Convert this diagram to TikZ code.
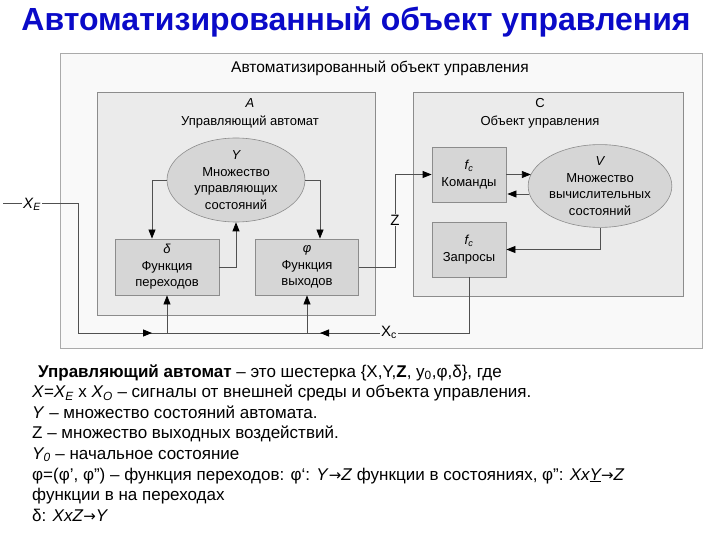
\documentclass[tikz,border=0pt]{standalone}
\usepackage{fontspec}
\setmainfont{Liberation Sans}
\newfontfamily\arrowfont{DejaVu Sans}
\usetikzlibrary{arrows.meta,shapes.geometric,calc}
\definecolor{titleblue}{RGB}{10,10,200}
\definecolor{outerfill}{RGB}{249,249,249}
\definecolor{outerdraw}{RGB}{170,170,170}
\definecolor{panelfill}{RGB}{235,235,235}
\definecolor{paneldraw}{RGB}{140,140,140}
\definecolor{boxfill}{RGB}{214,214,214}
\definecolor{boxdraw}{RGB}{140,140,140}
\definecolor{linecol}{RGB}{80,80,80}
\newcommand{\rarr}{{\arrowfont\fontsize{15}{20}\selectfont →}}
\tikzset{
  outerbox/.style={draw=outerdraw,fill=outerfill,line width=0.8pt,inner sep=0},
  panel/.style={draw=paneldraw,fill=panelfill,line width=0.8pt,inner sep=0},
  fbox/.style={draw=boxdraw,fill=boxfill,line width=0.8pt,align=center,inner sep=0,
     font=\fontsize{13}{16.5}\selectfont},
  fell/.style={ellipse,draw=boxdraw,fill=boxfill,line width=0.6pt,align=center,inner sep=0,
     font=\fontsize{13}{16.5}\selectfont},
  dlabel/.style={font=\fontsize{13}{15}\selectfont,inner sep=1pt},
  conn/.style={draw=linecol,line width=0.8pt},
  arr/.style={conn,-{Triangle[length=9pt,width=7pt,color=black,fill=black]}},
  body/.style={font=\fontsize{17}{20}\selectfont,anchor=base west,inner sep=0}
}
\begin{document}
\begin{tikzpicture}[x=1pt,y=-1pt]
\useasboundingbox (0,0) rectangle (720,540);

% title
\node[font=\fontsize{32}{34}\selectfont\bfseries,text=titleblue] (title) at (356,22) {Автоматизированный объект управления};

% outer box
\node[outerbox,minimum width=642pt,minimum height=295pt] (outer) at (381,200.5) {};
\node[font=\fontsize{15.5}{17}\selectfont] (hdr) at (380,68) {Автоматизированный объект управления};

% panels
\node[panel,minimum width=278pt,minimum height=223pt] (pA) at (236,203.5) {};
\node[panel,minimum width=270pt,minimum height=204pt] (pC) at (548,194) {};

\node[dlabel] (Alet) at (250,103) {\itshape A};
\node[dlabel] (Aname) at (250,122) {Управляющий автомат};
\node[dlabel] (Clet) at (540,103) {C};
\node[dlabel] (Cname) at (540,122) {Объект управления};

% nodes in A
\node[fell,minimum width=138pt,minimum height=84pt] (ellY) at (236,180)
  {\itshape Y\\Множество\\управляющих\\состояний};
\node[fbox,minimum width=104pt,minimum height=56pt] (delta) at (167,267)
  {\itshape δ\\Функция\\переходов};
\node[fbox,minimum width=103pt,minimum height=56pt] (phi) at (307,267)
  {\itshape φ\\Функция\\выходов};

% nodes in C
\node[fbox,minimum width=74pt,minimum height=55pt] (cmd) at (469,174.5)
  {\itshape f\textsubscript{c}\\Команды};
\node[fbox,minimum width=74pt,minimum height=55pt] (req) at (469,249.5)
  {\itshape f\textsubscript{c}\\Запросы};
\node[fell,minimum width=130pt,minimum height=78pt] (V) at (600,186)
  {\itshape V\\Множество\\вычислительных\\состояний};

% connectors inside A
\draw[arr] (ellY.west) -| ([xshift=-15pt]delta.north);
\draw[arr] (ellY.east) -| ([xshift=13pt]phi.north);
\draw[arr] (delta.east) -| (ellY.south);

% Z connector
\coordinate (zc) at (395,267);
\draw[arr] (phi.east) -- (zc) |- (cmd.west);
\node[dlabel,fill=outerfill,inner sep=1pt,font=\fontsize{15}{17}\selectfont] (zlab) at (395,220) {Z};

% connectors inside C
\draw[arr] (cmd.east) -- ([xshift=3pt]cmd.east -| V.west);
\draw[arr] ([xshift=1pt,yshift=-8pt]V.west) -- ([xshift=1pt,yshift=-8pt]V.west -| cmd.east);
\draw[arr] (V.south) |- (req.east);

% inputs X_E and X_C
\coordinate (xin) at (3,203);
\coordinate (xecorner) at (78,203);
\coordinate (xe) at (78,333);
\coordinate (xc) at (469,333);
\draw[conn] (xin) -- (xecorner) -- (xe) -- (xc) -- (req.south);
\draw[arr] (xe) -- (152,333);
\draw[arr] (xc) -- (320,333);
\draw[arr] (delta.south |- xe) -- (delta.south);
\draw[arr] (phi.south |- xe) -- (phi.south);
\node[dlabel,fill=white,font=\fontsize{15}{17}\selectfont] (xelab) at (32,204) {\itshape X\textsubscript{E}};
\node[dlabel,fill=outerfill,font=\fontsize{15}{17}\selectfont] (xclab) at (389,332) {X\textsubscript{c}};

% body text
\node[body] (t1) at (38,377) {\textbf{Управляющий автомат} – это шестерка \{X,Y,\textbf{Z}, y\textsubscript{0},φ,δ\}, где};
\node[body] (t2) at (32,397.6) {\textit{X}=\textit{X\textsubscript{E}} x \textit{X\textsubscript{O}} – сигналы от внешней среды и объекта управления.};
\node[body] (t3) at (32,418.2) {\textit{Y} – множество состояний автомата.};
\node[body] (t4) at (32,438.8) {Z – множество выходных воздействий.};
\node[body] (t5) at (32,459.4) {\textit{Y\textsubscript{0}} – начальное состояние};
\node[body] (t6) at (32,480) {φ=(φ', φ'') – функция переходов: φ‘: \textit{Y}\rarr\textit{Z} функции в состояниях, φ'': \textit{Xx\underline{Y}}\rarr\textit{Z}};
\node[body] (t7) at (32,500.6) {функции в на переходах};
\node[body] (t8) at (32,521.2) {δ: \textit{XxZ}\rarr\textit{Y}};
\end{tikzpicture}
\end{document}
